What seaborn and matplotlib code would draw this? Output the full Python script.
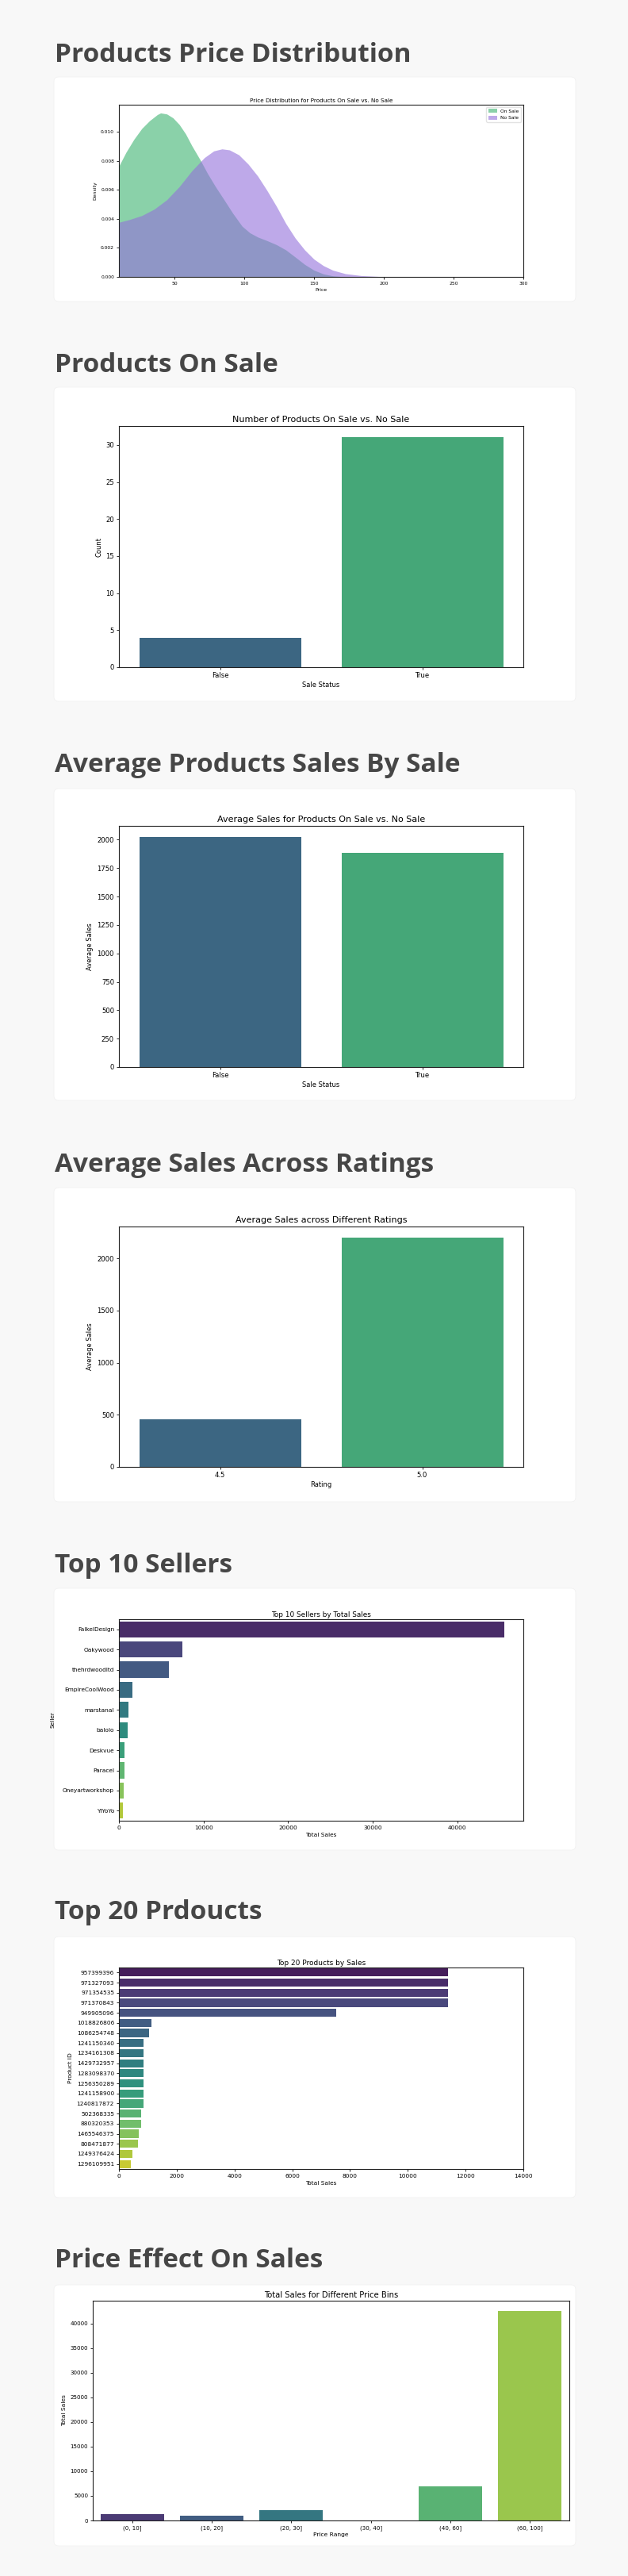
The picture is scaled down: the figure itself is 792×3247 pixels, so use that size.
import numpy as np
import pandas as pd
import matplotlib
matplotlib.use("Agg")
import matplotlib.pyplot as plt
import seaborn as sns
from matplotlib.patches import FancyBboxPatch
from matplotlib.transforms import IdentityTransform

# ---------------- data ----------------
section_titles = ["Products Price Distribution", "Products On Sale", "Average Products Sales By Sale",
                  "Average Sales Across Ratings", "Top 10 Sellers", "Top 20 Prdoucts", "Price Effect On Sales"]

# KDE curves (price, density)
price_on = [10.2, 15.1, 20.8, 26.4, 32.0, 37.6, 39.9, 44.3, 48.8, 53.3, 57.8, 62.3, 68.4, 73.5, 79.2,
            84.8, 91.5, 98.3, 103.9, 109.5, 116.2, 123.0, 129.7, 136.4, 143.2, 149.9, 156.7, 163.4, 172.4]
density_on = [0.00769, 0.0086, 0.0095, 0.01024, 0.01078, 0.0112, 0.01131, 0.01124, 0.01097, 0.01051,
              0.00987, 0.00905, 0.00805, 0.00714, 0.00623, 0.00541, 0.00441, 0.0035, 0.00304, 0.00275,
              0.0025, 0.00222, 0.00186, 0.00137, 0.00086, 0.00046, 0.0002, 0.00007, 0.0]
price_no = [10.2, 17.4, 26.4, 35.4, 44.3, 53.3, 62.3, 71.3, 78.0, 83.9, 89.3, 96.0, 102.7, 109.5,
            116.2, 123.0, 129.7, 136.4, 143.2, 149.9, 156.7, 163.4, 172.4, 183.6, 198.2]
density_no = [0.00377, 0.00395, 0.00423, 0.00468, 0.00532, 0.00623, 0.00732, 0.00823, 0.00869, 0.00883,
              0.00876, 0.00842, 0.00778, 0.00696, 0.00596, 0.00486, 0.00368, 0.00268, 0.00186, 0.00122,
              0.00077, 0.00046, 0.00022, 0.00009, 0.00002]

sale_status = ["False", "True"]
sale_counts = [4, 31]
avg_sales_by_sale = [2020, 1883]

ratings = ["4.5", "5.0"]
avg_sales_by_rating = [458, 2197]

sellers = ["FalkelDesign", "Oakywood", "thehrdwoodltd", "EmpireCoolWood", "marstanal", "balolo",
           "Deskvue", "Paracel", "Oneyartworkshop", "YiYoYo"]
seller_sales = [45550, 7470, 5910, 1580, 1120, 1010, 650, 640, 540, 440]

product_ids = ["957399396", "971327093", "971354535", "971370843", "949905096", "1018826806",
               "1086254748", "1241150340", "1234161308", "1429732957", "1283098370", "1256350289",
               "1241158900", "1240817872", "502368335", "880320353", "1465546375", "808471877",
               "1249376424", "1296109951"]
product_sales = [11390, 11390, 11390, 11390, 7520, 1117, 1030, 851, 851, 851, 851, 851, 851, 851,
                 758, 758, 683, 651, 469, 417]

price_bins = ["(0, 10]", "(10, 20]", "(20, 30]", "(30, 40]", "(40, 60]", "(60, 100]"]
bin_sales = [1342, 1020, 2094, 0, 6926, 42523]

# ---------------- layout ----------------
W, H = 792, 3247
fig = plt.figure(figsize=(W / 100, H / 100), dpi=100, facecolor="#f8f8f8")
plt.rcParams["font.family"] = ["DejaVu Sans"]

title_baselines = [78, 469, 973, 1477, 1982, 2419, 2858]
panels = [(97, 380), (488, 884), (994, 1387), (1497, 1893), (2002, 2332), (2441, 2770), (2880, 3209)]

panel_patches = []
for (y0, y1) in panels:
    p = FancyBboxPatch((68, H - y1), 726 - 68, y1 - y0, boxstyle="round,pad=0,rounding_size=6",
                       transform=IdentityTransform(), facecolor="white", edgecolor="#f0f0f0",
                       linewidth=0.5, zorder=-5)
    fig.add_artist(p)
    panel_patches.append(p)

for t, b in zip(section_titles, title_baselines):
    fig.text(69 / W, 1 - b / H, t, fontsize=24, fontweight="bold", color="#464646",
             family=["Open Sans", "DejaVu Sans"], va="baseline", ha="left")


def add_axes(x0, y0, x1, y1):
    return fig.add_axes([x0 / W, 1 - y1 / H, (x1 - x0) / W, (y1 - y0) / H])


def style(ax, tick_fs):
    for s in ax.spines.values():
        s.set_linewidth(0.8)
        s.set_color("#222222")
    ax.tick_params(labelsize=tick_fs, length=2.5, width=0.6, pad=1.8)


# ---- 1. KDE ----
ax1 = add_axes(150, 132, 660, 349)
ax1.fill_between(price_on, density_on, color="mediumseagreen", alpha=0.6, lw=0, label="On Sale")
ax1.fill_between(price_no, density_no, color="mediumpurple", alpha=0.6, lw=0, label="No Sale")
ax1.set_xlim(10, 300)
ax1.set_ylim(0, 0.01188)
style(ax1, 4.3)
ax1.set_title("Price Distribution for Products On Sale vs. No Sale", fontsize=5.2, pad=2.5)
ax1.set_xlabel("Price", fontsize=4.4, labelpad=2)
ax1.set_ylabel("Density", fontsize=4.4, labelpad=3)
ax1.legend(loc="upper right", fontsize=4.3, handlelength=1.8, handleheight=0.9, borderpad=0.4,
           labelspacing=0.45, framealpha=0.8, edgecolor="#dddddd")

# ---- 2. count ----
ax2 = add_axes(150, 537, 660, 841)
sns.barplot(x=sale_status, y=sale_counts, hue=sale_status, palette="viridis", legend=False, ax=ax2)
style(ax2, 6.1)
ax2.set_title("Number of Products On Sale vs. No Sale", fontsize=8, pad=3.5)
ax2.set_xlabel("Sale Status", fontsize=6, labelpad=2.5)
ax2.set_ylabel("Count", fontsize=6, labelpad=3)

# ---- 3. avg sales by sale ----
ax3 = add_axes(150, 1041, 660, 1345)
sns.barplot(x=sale_status, y=avg_sales_by_sale, hue=sale_status, palette="viridis", legend=False, ax=ax3)
style(ax3, 6.1)
ax3.set_title("Average Sales for Products On Sale vs. No Sale", fontsize=8, pad=3.5)
ax3.set_xlabel("Sale Status", fontsize=6, labelpad=2.5)
ax3.set_ylabel("Average Sales", fontsize=6, labelpad=3)

# ---- 4. avg sales by rating ----
ax4 = add_axes(150, 1546, 660, 1849)
sns.barplot(x=ratings, y=avg_sales_by_rating, hue=ratings, palette="viridis", legend=False, ax=ax4)
style(ax4, 6.1)
ax4.set_title("Average Sales across Different Ratings", fontsize=8, pad=3.5)
ax4.set_xlabel("Rating", fontsize=6, labelpad=2.5)
ax4.set_ylabel("Average Sales", fontsize=6, labelpad=3)

# ---- 5. top sellers ----
ax5 = add_axes(150, 2041, 660, 2295)
sns.barplot(x=seller_sales, y=sellers, hue=sellers, palette="viridis", legend=False, orient="h", ax=ax5)
style(ax5, 5.3)
ax5.set_title("Top 10 Sellers by Total Sales", fontsize=6.4, pad=2.5)
ax5.set_xlabel("Total Sales", fontsize=5.3, labelpad=2.5)
ax5.set_ylabel("Seller", fontsize=5.3)
ax5.yaxis.set_label_coords((69.5 - 150) / 510, 0.5)
ax5.yaxis.label.set_clip_path(panel_patches[4])

# ---- 6. top products ----
ax6 = add_axes(150, 2480, 660, 2734)
sns.barplot(x=product_sales, y=product_ids, hue=product_ids, palette="viridis", legend=False, orient="h", ax=ax6)
ax6.set_xlim(0, 14000)
style(ax6, 5.3)
ax6.set_title("Top 20 Products by Sales", fontsize=6.5, pad=2)
ax6.set_xlabel("Total Sales", fontsize=5.3, labelpad=2.5)
ax6.set_ylabel("Product ID", fontsize=5.4, labelpad=3)

# ---- 7. price bins ----
ax7 = add_axes(117, 2900, 718, 3177)
sns.barplot(x=price_bins, y=bin_sales, hue=price_bins, palette="viridis", legend=False, ax=ax7)
style(ax7, 5.1)
ax7.set_title("Total Sales for Different Price Bins", fontsize=7.2, pad=3)
ax7.set_xlabel("Price Range", fontsize=5.4, labelpad=2)
ax7.set_ylabel("Total Sales", fontsize=5.4, labelpad=3)

fig.savefig("out.png", dpi=100, facecolor=fig.get_facecolor())
